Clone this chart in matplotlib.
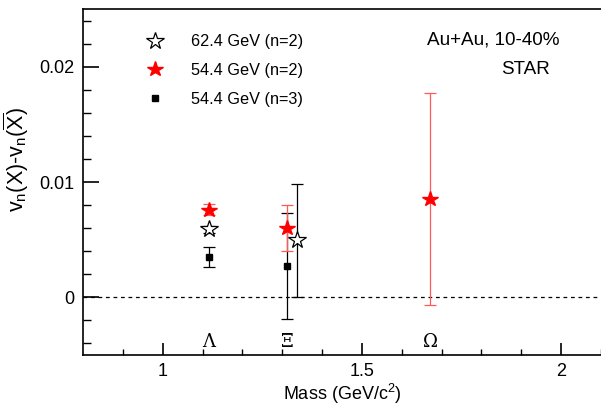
import numpy as np
import matplotlib
matplotlib.use("Agg")
import matplotlib.pyplot as plt
from matplotlib.lines import Line2D

plt.rcParams['font.family'] = ['Liberation Sans', 'DejaVu Sans']
plt.rcParams['mathtext.fontset'] = 'custom'
plt.rcParams['mathtext.rm'] = 'Liberation Sans'
plt.rcParams['mathtext.it'] = 'Liberation Sans:italic'

# 62.4 GeV, n=2
x62 = [1.115, 1.3375]
y62 = [0.0059, 0.00495]
e62 = [0.0003, 0.0049]
# 54.4 GeV, n=2
x54 = [1.115, 1.3125, 1.671]
y54 = [0.0076, 0.0060, 0.0085]
e54 = [0.0005, 0.0020, 0.0092]
# 54.4 GeV, n=3
x54n3 = [1.115, 1.3125]
y54n3 = [0.0035, 0.00275]
e54n3 = [0.00087, 0.0046]

particles = ['Λ', 'Ξ', 'Ω']
particle_x = [1.115, 1.3125, 1.671]
labels = ['62.4 GeV (n=2)', '54.4 GeV (n=2)', '54.4 GeV (n=3)']

fig = plt.figure(figsize=(6.01, 4.07), dpi=100)
ax = fig.add_axes([83/601, 1-355/407, 1-83/601, (355-9)/407])

ax.axhline(0, color='black', lw=0.9, ls=(0, (3, 3)))

ax.errorbar(x54n3, y54n3, yerr=e54n3, fmt='s', color='black', ms=5,
            elinewidth=0.9, capsize=4, capthick=0.9)
ax.errorbar(x54, y54, yerr=e54, fmt='*', color='red', ms=11.5,
            ecolor=(1, 0.35, 0.35), elinewidth=0.9, capsize=4, capthick=0.9)
ax.errorbar(x62, y62, yerr=e62, fmt='*', mfc='white', mec='black', mew=0.9,
            ms=13, ecolor='black', elinewidth=0.9, capsize=4, capthick=0.9)

for name, px in zip(particles, particle_x):
    ax.text(px, -0.0039, name, ha='center', va='center', fontsize=13,
            family=['DejaVu Serif'])

ax.text(0.6635, 0.910, 'Au+Au, 10-40%', transform=ax.transAxes, ha='left',
        va='center', fontsize=13.6)
ax.text(0.808, 0.824, 'STAR', transform=ax.transAxes, ha='left',
        va='center', fontsize=13.6)

handles = [Line2D([], [], ls='none', marker='*', mfc='white', mec='black', mew=0.9, ms=13),
           Line2D([], [], ls='none', marker='*', color='red', ms=11.5),
           Line2D([], [], ls='none', marker='s', color='black', ms=5)]
ax.legend(handles, labels, loc='upper left', bbox_to_anchor=(0.0878, 0.969),
          frameon=False, fontsize=11.7, handletextpad=1.47, labelspacing=0.84,
          handlelength=1.5)

ax.set_xlim(0.8, 0.8 + 518/400)
ax.set_ylim(-0.005, 0.025)
ax.set_xticks([1, 1.5, 2])
ax.set_xticklabels(['1', '1.5', '2'])
ax.set_xticks(np.arange(0.9, 2.1, 0.1), minor=True)
ax.set_yticks([0, 0.01, 0.02])
ax.set_yticklabels(['0', '0.01', '0.02'])
ax.set_yticks(np.arange(-0.004, 0.0241, 0.002), minor=True)
ax.tick_params(which='both', direction='in', labelsize=13)
ax.tick_params(axis='x', which='major', length=8.4, width=1.2, pad=6)
ax.tick_params(axis='x', which='minor', length=4.3, width=1)
ax.tick_params(axis='y', which='major', length=11.3, width=1.2, pad=6)
ax.tick_params(axis='y', which='minor', length=5.8, width=1)
ax.spines['right'].set_visible(False)
for s in ['left', 'bottom', 'top']:
    ax.spines[s].set_linewidth(1.2)

ax.set_xlabel('Mass (GeV/c$^2$)', fontsize=13, labelpad=1)
ax.set_ylabel(r'v$_{\rm n}$(X)-v$_{\rm n}$($\overline{\rm X}$)', fontsize=15.5,
              labelpad=6, y=0.566)

fig.savefig('out.png', dpi=100)
